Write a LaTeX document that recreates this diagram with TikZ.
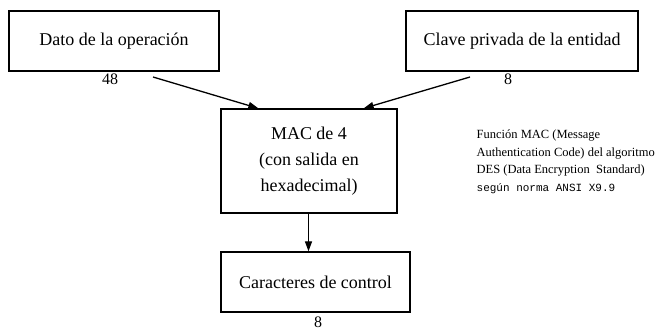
\documentclass[tikz,border=0pt]{standalone}
\usepackage{fontspec}
\setmainfont{Liberation Serif}
\setmonofont{Liberation Mono}
\usetikzlibrary{arrows.meta,calc}
\begin{document}
\begin{tikzpicture}[x=1pt, y=-1pt, >={Triangle[length=10pt,width=7pt]}, line width=1.3pt,
    caja/.style={draw, inner sep=0pt, align=center, font=\fontsize{18}{26}\selectfont},
    cifra/.style={inner sep=1pt, font=\fontsize{16}{16}\selectfont},
    nota/.style={align=left, inner sep=0pt, font=\fontsize{12.5}{17.5}\selectfont}]
    \useasboundingbox (0,0) rectangle (664,336);

    % ----------- entradas -----------
    \node[caja, minimum width=210pt, minimum height=60pt] (dato) at (114,41) {Dato de la operación};
    \node[caja, minimum width=232pt, minimum height=60pt] (clave) at (522,41) {Clave privada de la entidad};
    \node[cifra, anchor=north] (ldato) at (110,72) {48};
    \node[cifra, anchor=north] (lclave) at (508,72) {8};

    % ----------- función MAC -----------
    \node[caja, minimum width=176pt, minimum height=104pt] (mac) at (309,161)
        {MAC de 4\\(con salida en\\hexadecimal)};
    \node[nota, anchor=west] (nota) at (476,162)
        {Función MAC (Message\\Authentication Code) del algoritmo\\DES (Data Encryption\ \ Standard)\\
         {\fontsize{11}{17.5}\selectfont\ttfamily según norma ANSI X9.9}};

    % ----------- salida -----------
    \node[caja, minimum width=189pt, minimum height=60pt] (ctl) at (315.5,282) {Caracteres de control};
    \node[cifra, anchor=north] (lctl) at (318,315) {8};

    % ----------- flechas -----------
    \coordinate (s1) at (153,77);
    \coordinate (s2) at (470,77);
    \coordinate (e1) at ($(mac.north west)+(38,0)$);
    \coordinate (e2) at ($(mac.north east)+(-34,0)$);
    \draw[->] (s1) -- (e1);
    \draw[->] (s2) -- (e2);
    \draw[->] (mac.south -| ctl.north) ++(-7,0) coordinate (s3) -- (s3 |- ctl.north);
\end{tikzpicture}
\end{document}
